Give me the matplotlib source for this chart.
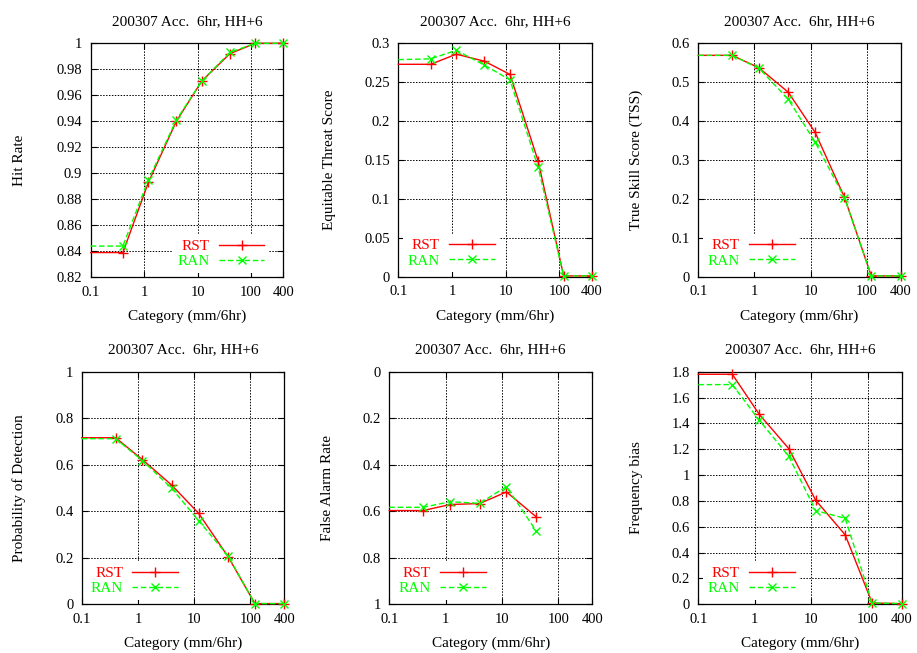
import matplotlib
matplotlib.use("Agg")
import matplotlib.pyplot as plt
from matplotlib.ticker import FixedLocator, FixedFormatter, FormatStrFormatter, NullLocator

plt.rcParams['font.family'] = ['Liberation Serif', 'DejaVu Serif']
plt.rcParams['font.size'] = 10

# categories (mm/6hr); first point sits on the left border
cats = [0.1, 0.4, 1.2, 4, 12, 40, 120, 400]
xticks = [0.1, 1, 10, 100, 400]
xticklabels = ['0.1', '1', '10', '100', '400']

title = '200307 Acc.  6hr, HH+6'
xlabel = 'Category (mm/6hr)'

hit_rst = [0.839, 0.839, 0.893, 0.940, 0.971, 0.992, 1.0, 1.0]
hit_ran = [0.844, 0.844, 0.895, 0.941, 0.971, 0.993, 1.0, 1.0]

ets_rst = [0.273, 0.273, 0.286, 0.277, 0.260, 0.149, 0.001, 0.001]
ets_ran = [0.279, 0.280, 0.291, 0.272, 0.253, 0.141, 0.001, 0.001]

tss_rst = [0.569, 0.569, 0.537, 0.474, 0.371, 0.204, 0.002, 0.002]
tss_ran = [0.569, 0.569, 0.536, 0.456, 0.346, 0.203, 0.002, 0.002]

pod_rst = [0.716, 0.716, 0.622, 0.512, 0.391, 0.205, 0.003, 0.003]
pod_ran = [0.712, 0.712, 0.618, 0.498, 0.360, 0.208, 0.003, 0.003]

far_rst = [0.597, 0.597, 0.571, 0.567, 0.517, 0.623]
far_ran = [0.583, 0.583, 0.559, 0.566, 0.494, 0.683]

bias_rst = [1.78, 1.78, 1.47, 1.205, 0.805, 0.537, 0.01, 0.005]
bias_ran = [1.70, 1.70, 1.425, 1.145, 0.725, 0.665, 0.01, 0.005]

panels = [
    # (position, ylabel, ylabel x, rst, ran, ylim, yticks, legend loc, anchor)
    ([0.0989, 0.5754, 0.2100, 0.3583], 'Hit Rate', -0.337, hit_rst, hit_ran,
     (0.82, 1.0), [0.82, 0.84, 0.86, 0.88, 0.90, 0.92, 0.94, 0.96, 0.98, 1.0],
     'lower right', (0.95, 0.0)),
    ([0.4344, 0.5763, 0.2109, 0.3574], 'Equitable Threat Score', -0.322, ets_rst, ets_ran,
     (0.0, 0.3), [0, 0.05, 0.1, 0.15, 0.2, 0.25, 0.3], 'lower left', (0.0, 0.0)),
    ([0.7615, 0.5763, 0.2207, 0.3574], 'True Skill Score (TSS)', -0.275, tss_rst, tss_ran,
     (0.0, 0.6), [0, 0.1, 0.2, 0.3, 0.4, 0.5, 0.6], 'lower left', (0.0, 0.0)),
    ([0.0891, 0.0746, 0.2209, 0.3562], 'Probability of Detection', -0.275, pod_rst, pod_ran,
     (0.0, 1.0), [0, 0.2, 0.4, 0.6, 0.8, 1.0], 'lower left', (0.0, 0.0)),
    ([0.4245, 0.0746, 0.2214, 0.3562], 'False Alarm Rate', -0.27, far_rst, far_ran,
     (1.0, 0.0), [0, 0.2, 0.4, 0.6, 0.8, 1.0], 'lower left', (0.0, 0.0)),
    ([0.7615, 0.0746, 0.2218, 0.3562], 'Frequency bias', -0.273, bias_rst, bias_ran,
     (0.0, 1.8), [0, 0.2, 0.4, 0.6, 0.8, 1.0, 1.2, 1.4, 1.6, 1.8], 'lower left', (0.0, 0.0)),
]

fig = plt.figure(figsize=(9.17, 6.53), dpi=100)

for pos, ylab, ylx, rst, ran, ylim, yticks, loc, anchor in panels:
    ax = fig.add_axes(pos)
    ax.set_xscale('log')
    ax.set_xlim(0.1, 400)
    ax.set_ylim(*ylim)
    ax.xaxis.set_major_locator(FixedLocator(xticks))
    ax.xaxis.set_major_formatter(FixedFormatter(xticklabels))
    ax.xaxis.set_minor_locator(NullLocator())
    ax.set_yticks(yticks)
    ax.yaxis.set_major_formatter(FormatStrFormatter('%g'))
    ax.tick_params(direction='in', top=True, right=True, length=4, width=0.8,
                   labelsize=10.5, pad=6)
    ax.grid(True, color='black', linestyle=(0, (1.5, 1.5)), linewidth=0.7)
    ax.set_axisbelow(True)
    for sp in ax.spines.values():
        sp.set_linewidth(0.9)

    n_rst = len(rst)
    n_ran = len(ran)
    ax.plot(cats[:n_rst], rst, color='#ff0000', linestyle='-', linewidth=1.0,
            marker='+', markersize=7, markeredgewidth=1.0,
            markevery=list(range(1, n_rst)), label='RST', clip_on=False, zorder=3)
    ax.plot(cats[:n_ran], ran, color='#00ff00', linestyle=(0, (4, 2)), linewidth=1.0,
            marker='x', markersize=6, markeredgewidth=1.0,
            markevery=list(range(1, n_ran)), label='RAN', clip_on=False, zorder=3)

    leg = ax.legend(loc=loc, bbox_to_anchor=anchor, markerfirst=False, handlelength=3.0,
                    handletextpad=0.6, labelspacing=0.1, borderpad=0.3, borderaxespad=0.3,
                    frameon=True, fancybox=False, fontsize=11)
    leg.get_frame().set_edgecolor('none')
    leg.get_frame().set_facecolor('white')
    leg.get_frame().set_alpha(1.0)
    for txt, col in zip(leg.get_texts(), ['#ff0000', '#00ff00']):
        txt.set_color(col)

    ax.set_title(title, fontsize=11, pad=13)
    ax.set_xlabel(xlabel, fontsize=11, labelpad=8)
    ax.set_ylabel(ylab, fontsize=11)
    ax.yaxis.set_label_coords(ylx, 0.5)

fig.savefig('out.png', dpi=100)
